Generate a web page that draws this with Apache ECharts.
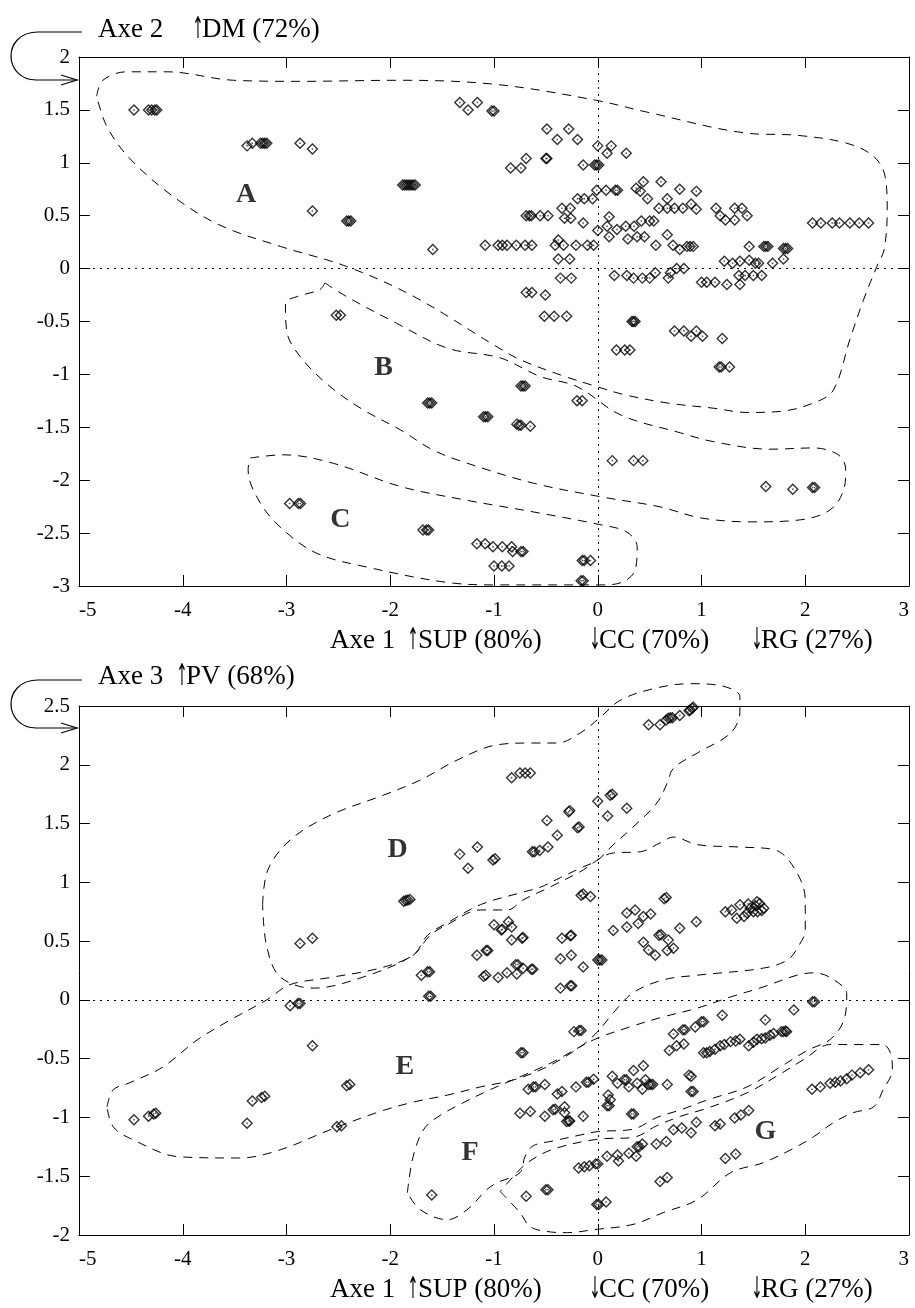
<!DOCTYPE html>
<html>
<head>
<meta charset="utf-8">
<script src="https://cdn.jsdelivr.net/npm/echarts@6/dist/echarts.min.js"></script>
<style>
html, body { margin: 0; padding: 0; background: #fff; }
#chart { width: 915px; height: 1308px; }
</style>
</head>
<body>
<div id="chart"></div>
<script>
// axes : plan 1-2 en haut, plan 1-3 en bas
const axe1Range = [-5, 3]
const axe2Range = [-3, 2]
const axe3Range = [-2, 2.5]

// individus, plan Axe 1 / Axe 2
const pointsPlan12 = [
  [-4.47,1.50],[-4.33,1.50],[-4.30,1.50],[-4.27,1.50],[-4.25,1.50],
  [-3.38,1.16],[-3.33,1.185],[-3.25,1.185],[-3.23,1.185],[-3.21,1.185],[-3.19,1.185],
  [-2.87,1.185],[-2.75,1.13],
  [-1.88,0.79],[-1.86,0.79],[-1.84,0.79],[-1.82,0.79],[-1.80,0.79],[-1.78,0.79],[-1.76,0.79],
  [-2.75,0.545],[-2.42,0.45],[-2.40,0.45],[-2.38,0.45],[-1.59,0.18],
  [-1.33,1.57],[-1.25,1.50],[-1.16,1.57],[-1.02,1.49],[-1.00,1.49],
  [-0.49,1.32],[-0.28,1.32],[-0.39,1.22],[-0.195,1.22],[-0.69,1.04],[-0.84,0.95],[-0.74,0.95],[-0.50,1.04],[-0.49,1.04],
  [0.0,1.16],[0.13,1.16],[0.09,1.09],[0.275,1.09],
  [-0.14,0.98],[-0.03,0.98],[-0.01,0.98],[0.01,0.98],
  [-0.01,0.74],[0.08,0.74],[0.17,0.74],[0.19,0.74],
  [-0.195,0.66],[-0.13,0.66],[-0.05,0.66],
  [0.37,0.76],[0.41,0.73],[0.44,0.82],[0.48,0.66],[0.61,0.82],[0.79,0.75],[0.95,0.73],
  [0.67,0.66],[0.59,0.57],[0.67,0.57],[0.74,0.57],[0.82,0.57],[0.90,0.61],[0.95,0.56],
  [1.14,0.57],[1.18,0.50],[1.23,0.46],[1.32,0.57],[1.39,0.57],[1.32,0.46],[1.44,0.50],
  [2.07,0.43],[2.15,0.43],[2.26,0.43],[2.33,0.43],[2.43,0.43],[2.52,0.43],[2.61,0.43],
  [-0.69,0.50],[-0.66,0.50],[-0.64,0.50],[-0.555,0.50],[-0.48,0.50],
  [-0.345,0.57],[-0.265,0.57],[-0.32,0.475],[-0.26,0.475],[-0.14,0.43],
  [0.11,0.49],[0.0,0.36],[0.09,0.40],[0.185,0.37],[0.11,0.30],
  [0.27,0.40],[0.35,0.40],[0.42,0.45],[0.50,0.45],[0.54,0.45],
  [-1.085,0.22],[-0.96,0.22],[-0.92,0.22],[-0.875,0.22],[-0.785,0.22],[-0.70,0.22],[-0.635,0.22],
  [-0.38,0.27],[-0.33,0.22],[-0.41,0.22],[-0.21,0.22],[-0.10,0.22],[-0.04,0.22],
  [0.29,0.28],[0.38,0.30],[0.45,0.30],
  [0.56,0.22],[0.67,0.32],[0.725,0.22],[0.79,0.18],[0.86,0.21],[0.89,0.21],[0.92,0.21],
  [-0.38,0.09],[-0.27,0.09],
  [1.46,0.21],[1.60,0.21],[1.62,0.21],[1.64,0.21],[1.79,0.19],[1.81,0.19],[1.83,0.19],
  [1.22,0.07],[1.30,0.05],[1.37,0.07],[1.46,0.08],[1.52,0.05],[1.55,0.05],[1.685,0.05],[1.79,0.09],
  [1.36,-0.065],[1.42,-0.065],[1.50,-0.065],[1.58,-0.065],
  [1.00,-0.13],[1.05,-0.13],[1.13,-0.13],[1.245,-0.15],[1.37,-0.15],
  [0.16,-0.065],[0.28,-0.065],[0.345,-0.09],[0.43,-0.09],[0.50,-0.09],[0.555,-0.04],[0.68,-0.09],[0.76,0.0],[0.83,0.0],[0.70,-0.04],
  [-0.36,-0.09],[-0.255,-0.09],
  [-0.69,-0.225],[-0.635,-0.225],[-0.505,-0.25],
  [-0.515,-0.45],[-0.42,-0.45],[-0.30,-0.45],
  [0.33,-0.50],[0.345,-0.50],[0.36,-0.50],
  [0.74,-0.59],[0.83,-0.59],[0.90,-0.64],[0.95,-0.59],[1.01,-0.64],[1.20,-0.66],
  [0.18,-0.77],[0.26,-0.77],[0.31,-0.77],
  [1.17,-0.93],[1.19,-0.93],[1.27,-0.93],
  [-2.52,-0.44],[-2.48,-0.44],
  [-1.64,-1.27],[-1.62,-1.27],[-1.60,-1.27],
  [-0.74,-1.11],[-0.72,-1.11],[-0.70,-1.11],
  [-1.10,-1.40],[-1.08,-1.40],[-1.06,-1.40],
  [-0.20,-1.25],[-0.15,-1.25],
  [-0.78,-1.47],[-0.76,-1.48],[-0.74,-1.48],[-0.65,-1.49],
  [0.14,-1.815],[0.345,-1.815],[0.435,-1.815],
  [1.62,-2.06],[1.88,-2.085],[2.07,-2.07],[2.09,-2.07],
  [-2.97,-2.22],[-2.885,-2.22],[-2.865,-2.22],
  [-1.685,-2.47],[-1.65,-2.47],[-1.63,-2.47],
  [-1.165,-2.60],[-1.085,-2.60],[-1.01,-2.63],[-0.92,-2.63],[-0.83,-2.63],[-0.82,-2.675],[-0.74,-2.675],[-0.72,-2.675],
  [-1.00,-2.81],[-0.925,-2.81],[-0.855,-2.81],
  [-0.15,-2.76],[-0.13,-2.76],[-0.07,-2.76],
  [-0.16,-2.95],[-0.14,-2.95]
]

// individus, plan Axe 1 / Axe 3
const pointsPlan13 = [
  [0.49,2.34],[0.60,2.34],[0.66,2.38],[0.68,2.395],[0.70,2.40],[0.72,2.40],[0.79,2.42],[0.88,2.46],[0.89,2.465],[0.91,2.48],[0.92,2.49],
  [-0.83,1.89],[-0.75,1.93],[-0.70,1.93],[-0.65,1.93],
  [0.0,1.69],[0.12,1.74],[0.14,1.75],[0.095,1.565],[0.28,1.63],
  [-0.28,1.60],[-0.27,1.61],[-0.195,1.465],[-0.18,1.47],[-0.49,1.525],[-0.39,1.40],
  [-0.63,1.26],[-0.61,1.26],[-0.56,1.27],[-0.48,1.30],
  [-1.33,1.24],[-1.16,1.30],[-1.25,1.12],[-1.01,1.19],[-0.99,1.20],
  [-1.87,0.84],[-1.85,0.845],[-1.83,0.85],[-1.81,0.855],
  [-0.16,0.89],[-0.14,0.90],[-0.07,0.88],
  [0.28,0.74],[0.36,0.765],[0.44,0.71],[0.51,0.73],[0.28,0.62],[0.39,0.65],[0.15,0.59],
  [0.64,0.86],[0.66,0.87],
  [1.23,0.75],[1.29,0.765],[1.37,0.81],[1.45,0.815],[1.535,0.835],[1.60,0.78],[1.50,0.75],[1.41,0.71],[1.34,0.695],
  [1.54,0.75],[1.47,0.78],[1.52,0.80],[1.56,0.82],[1.58,0.76],[1.44,0.74],
  [0.95,0.665],[0.79,0.61],
  [0.59,0.55],[0.61,0.555],[0.68,0.51],[0.73,0.44],[0.67,0.42],[0.44,0.49],[0.49,0.425],[0.555,0.38],
  [-1.00,0.64],[-0.93,0.595],[-0.92,0.60],[-0.86,0.665],[-0.83,0.62],[-0.73,0.525],[-0.72,0.53],[-0.83,0.51],
  [-1.165,0.38],[-1.075,0.42],[-1.06,0.42],
  [-1.10,0.20],[-1.08,0.21],[-0.96,0.19],[-0.875,0.23],[-0.78,0.22],[-0.79,0.30],[-0.77,0.30],[-0.72,0.27],[-0.64,0.26],[-0.625,0.26],
  [-0.345,0.525],[-0.265,0.545],[-0.255,0.55],
  [-0.36,0.35],[-0.255,0.38],
  [-0.14,0.28],[0.0,0.34],[0.02,0.34],[0.04,0.34],
  [-0.36,0.10],[-0.265,0.12],[-0.25,0.12],
  [-1.70,0.21],[-1.64,0.24],[-1.62,0.24],
  [-1.63,0.03],[-1.61,0.03],
  [-0.23,-0.27],[-0.18,-0.26],[-0.16,-0.26],
  [-0.74,-0.45],[-0.72,-0.45],
  [1.20,-0.13],[1.615,-0.17],[1.89,-0.085],[2.07,-0.015],[2.09,-0.015],
  [0.73,-0.29],[0.82,-0.255],[0.84,-0.255],[0.94,-0.23],[1.00,-0.185],[1.02,-0.185],
  [0.69,-0.43],[0.76,-0.39],[0.83,-0.375],
  [1.02,-0.45],[1.05,-0.45],[1.08,-0.44],[1.13,-0.42],[1.18,-0.39],[1.22,-0.38],[1.28,-0.355],[1.33,-0.35],[1.37,-0.335],
  [1.455,-0.39],[1.50,-0.36],[1.535,-0.335],[1.58,-0.33],[1.615,-0.325],[1.66,-0.30],[1.695,-0.285],[1.77,-0.27],[1.79,-0.27],[1.81,-0.265],[1.82,-0.27],
  [0.88,-0.64],[0.90,-0.65],
  [-2.87,0.48],[-2.75,0.525],
  [-2.965,-0.05],[-2.89,-0.03],[-2.87,-0.03],
  [-2.75,-0.39],
  [-2.42,-0.73],[-2.39,-0.72],
  [-3.33,-0.86],[-3.24,-0.83],[-3.21,-0.82],
  [-3.38,-1.05],
  [-4.47,-1.02],[-4.33,-0.99],[-4.28,-0.97],[-4.26,-0.965],
  [-2.515,-1.08],[-2.47,-1.07],
  [-0.67,-0.76],[-0.62,-0.74],[-0.60,-0.74],[-0.51,-0.72],
  [-0.39,-0.80],[-0.345,-0.78],
  [-0.21,-0.74],[-0.11,-0.70],[-0.09,-0.70],[-0.04,-0.675],
  [-0.75,-0.965],[-0.65,-0.95],
  [-0.51,-0.99],[-0.43,-0.935],[-0.41,-0.93],[-0.32,-0.91],[-0.32,-0.96],[-0.14,-0.99],[-0.30,-1.035],[-0.28,-1.03],[-0.27,-1.03],
  [0.10,-0.81],[0.12,-0.85],[0.09,-0.90],[0.11,-0.90],
  [0.14,-0.65],[0.19,-0.71],[0.255,-0.68],[0.275,-0.68],[0.30,-0.74],[0.38,-0.71],[0.43,-0.76],[0.44,-0.56],[0.345,-0.60],
  [0.49,-0.72],[0.51,-0.72],[0.53,-0.72],[0.67,-0.72],[0.46,-0.68],
  [0.90,-0.78],[0.92,-0.78],
  [0.325,-0.97],[0.345,-0.97],
  [2.065,-0.76],[2.145,-0.74],[2.24,-0.71],[2.29,-0.70],[2.34,-0.69],[2.40,-0.67],[2.45,-0.64],[2.53,-0.62],[2.61,-0.595],
  [1.13,-1.07],[1.18,-1.055],[1.32,-1.005],[1.38,-0.98],[1.455,-0.94],
  [0.95,-1.04],[0.90,-1.13],[0.81,-1.09],[0.73,-1.105],
  [0.66,-1.205],[0.565,-1.225],[0.43,-1.225],[0.38,-1.25],[0.40,-1.25],
  [0.30,-1.305],[0.19,-1.32],[0.20,-1.37],[0.09,-1.33],[0.37,-1.33],
  [-0.185,-1.43],[-0.13,-1.42],[-0.08,-1.41],[-0.02,-1.395],[0.0,-1.395],
  [1.23,-1.35],[1.33,-1.31],
  [0.60,-1.545],[0.67,-1.51],
  [-0.50,-1.615],[-0.48,-1.615],
  [-0.69,-1.67],
  [-1.60,-1.66],
  [-0.01,-1.74],[0.01,-1.74],[0.08,-1.72]
]

// contours des groupes (tracés à la main sur l'original)
const contourA = [[-4.83,1.63],[-4.77,1.78],[-4.54,1.86],[-4.15,1.86],[-3.51,1.78],[-2.87,1.77],[-1.90,1.78],[-0.97,1.74],[-0.01,1.59],[0.47,1.48],[1.44,1.28],[1.92,1.26],[2.40,1.185],[2.66,1.06],[2.77,0.87],[2.79,0.555],[2.76,0.18],[2.69,0.02],[2.56,-0.30],[2.43,-0.67],[2.27,-1.15],[2.08,-1.27],[1.76,-1.35],[1.44,-1.36],[1.12,-1.32],[0.67,-1.27],[0.25,-1.19],[-0.01,-1.115],[-0.36,-1.005],[-0.75,-0.86],[-0.97,-0.74],[-1.78,-0.26],[-2.42,0.02],[-3.06,0.21],[-3.64,0.41],[-4.09,0.68],[-4.51,1.04],[-4.73,1.34],[-4.83,1.63]]
const contourB = [[-2.63,-0.135],[-2.42,-0.265],[-1.94,-0.516],[-1.45,-0.752],[-0.94,-0.844],[-0.555,-1.02],[-0.20,-1.115],[0.22,-1.383],[0.80,-1.553],[1.11,-1.635],[1.66,-1.707],[2.08,-1.695],[2.32,-1.761],[2.39,-1.903],[2.37,-2.092],[2.24,-2.28],[1.95,-2.375],[1.47,-2.394],[0.99,-2.356],[0.60,-2.252],[0.02,-2.155],[-0.62,-2.028],[-1.26,-1.839],[-1.59,-1.714],[-1.90,-1.525],[-2.26,-1.335],[-2.58,-1.115],[-2.87,-0.83],[-3.00,-0.58],[-3.01,-0.327],[-2.90,-0.265],[-2.68,-0.20],[-2.63,-0.135]]
const contourC = [[-3.35,-1.79],[-3.03,-1.76],[-2.55,-1.84],[-1.90,-2.06],[-1.26,-2.19],[-0.62,-2.30],[0.02,-2.42],[0.28,-2.49],[0.38,-2.63],[0.36,-2.85],[0.22,-2.97],[0.02,-2.99],[-0.94,-2.99],[-1.42,-2.97],[-2.23,-2.82],[-2.71,-2.69],[-3.03,-2.47],[-3.25,-2.22],[-3.37,-1.90],[-3.35,-1.79]]
const contourD = [[-3.23,0.81],[-3.18,1.105],[-2.965,1.36],[-2.58,1.57],[-2.07,1.74],[-1.71,1.87],[-1.355,2.04],[-0.97,2.17],[-0.65,2.185],[-0.39,2.185],[-0.17,2.27],[0.02,2.40],[0.22,2.55],[0.55,2.65],[0.89,2.69],[1.20,2.67],[1.37,2.58],[1.37,2.45],[1.28,2.27],[0.96,2.10],[0.73,1.97],[0.67,1.845],[0.57,1.675],[0.34,1.47],[0.15,1.32],[0.0,1.19],[-0.17,1.12],[-0.36,1.04],[-0.55,0.96],[-0.75,0.91],[-1.13,0.81],[-1.45,0.655],[-1.64,0.55],[-1.78,0.38],[-2.26,0.195],[-2.74,0.10],[-3.06,0.195],[-3.19,0.45],[-3.23,0.81]]
const contourE = [[-4.73,-0.91],[-4.67,-0.765],[-4.51,-0.705],[-4.19,-0.57],[-3.86,-0.34],[-3.54,-0.17],[-3.19,0.0],[-2.965,0.13],[-2.58,0.19],[-2.10,0.27],[-1.78,0.38],[-1.615,0.55],[-1.45,0.64],[-1.13,0.765],[-0.87,0.765],[-0.72,0.85],[-0.46,0.96],[-0.17,1.09],[0.15,1.25],[0.41,1.26],[0.60,1.335],[0.73,1.385],[0.96,1.32],[1.37,1.30],[1.71,1.275],[1.905,1.105],[2.00,0.85],[2.00,0.595],[1.93,0.45],[1.83,0.34],[1.595,0.27],[0.96,0.21],[0.63,0.17],[0.34,0.06],[0.15,-0.11],[0.0,-0.27],[-0.17,-0.40],[-0.49,-0.57],[-0.81,-0.68],[-1.13,-0.74],[-1.45,-0.81],[-1.78,-0.87],[-2.10,-0.95],[-2.58,-1.105],[-3.06,-1.275],[-3.45,-1.345],[-4.03,-1.335],[-4.48,-1.19],[-4.67,-1.08],[-4.73,-0.91]]
const contourF = [[-1.835,-1.64],[-1.78,-1.335],[-1.68,-1.105],[-1.55,-1.00],[-1.33,-0.89],[-1.04,-0.765],[-0.75,-0.655],[-0.43,-0.527],[-0.04,-0.34],[0.31,-0.23],[0.63,-0.145],[0.96,-0.07],[1.28,0.025],[1.595,0.11],[1.92,0.21],[2.08,0.23],[2.24,0.19],[2.40,0.05],[2.38,-0.15],[2.25,-0.33],[2.02,-0.43],[1.76,-0.57],[1.44,-0.74],[1.06,-0.85],[0.80,-0.935],[0.57,-1.00],[0.34,-1.10],[0.0,-1.12],[-0.17,-1.15],[-0.43,-1.20],[-0.62,-1.24],[-0.70,-1.33],[-0.75,-1.47],[-0.97,-1.555],[-1.07,-1.615],[-1.26,-1.785],[-1.45,-1.87],[-1.71,-1.785],[-1.835,-1.64]]
const contourG = [[-0.94,-1.63],[-0.75,-1.81],[-0.65,-1.93],[-0.49,-1.97],[-0.29,-1.98],[-0.04,-1.955],[0.34,-1.91],[0.63,-1.81],[0.96,-1.70],[1.28,-1.47],[1.595,-1.385],[1.86,-1.275],[2.08,-1.165],[2.27,-1.045],[2.46,-0.96],[2.66,-0.91],[2.75,-0.765],[2.84,-0.595],[2.82,-0.45],[2.75,-0.38],[2.56,-0.38],[2.24,-0.38],[1.98,-0.51],[1.76,-0.63],[1.44,-0.79],[1.06,-0.92],[0.80,-0.99],[0.57,-1.07],[0.34,-1.17],[0.0,-1.185],[-0.43,-1.27],[-0.67,-1.38],[-0.80,-1.49],[-0.94,-1.63]]

const lettresPlan12 = ['A', 'B', 'C']
const posLettresPlan12 = [[-3.39,0.70],[-2.065,-0.94],[-2.48,-2.375]]
const lettresPlan13 = ['D', 'E', 'F', 'G']
const posLettresPlan13 = [[-1.93,1.275],[-1.86,-0.565],[-1.23,-1.30],[1.615,-1.12]]

const serif = '"Liberation Serif", "Times New Roman", serif'
const chart = echarts.init(document.getElementById('chart'), null, { renderer: 'canvas' })

const grids = [
  { left: 79, top: 57, width: 830, height: 529 },
  { left: 79, top: 706, width: 830, height: 529 }
]

const tick = { show: true, inside: true, length: 11, lineStyle: { color: '#000', width: 1 } }
const ligne = { show: true, onZero: false, lineStyle: { color: '#000', width: 1 } }

const xAxes = []
const yAxes = []
;[axe2Range, axe3Range].forEach((yr, g) => {
  xAxes.push({
    type: 'value', gridIndex: g, position: 'bottom', min: axe1Range[0], max: axe1Range[1], interval: 1,
    axisLine: ligne, axisTick: tick, splitLine: { show: false },
    axisLabel: {
      color: '#000', fontFamily: serif, fontSize: 21, margin: 14,
      showMinLabel: true, showMaxLabel: true, alignMinLabel: 'left', alignMaxLabel: 'right'
    }
  })
  xAxes.push({
    type: 'value', gridIndex: g, position: 'top', min: axe1Range[0], max: axe1Range[1], interval: 1,
    axisLine: ligne, axisTick: tick, splitLine: { show: false }, axisLabel: { show: false }
  })
  yAxes.push({
    type: 'value', gridIndex: g, position: 'left', min: yr[0], max: yr[1], interval: 0.5,
    axisLine: ligne, axisTick: tick, splitLine: { show: false },
    axisLabel: { color: '#000', fontFamily: serif, fontSize: 21, margin: 9, padding: [9, 0, 0, 0] }
  })
  yAxes.push({
    type: 'value', gridIndex: g, position: 'right', min: yr[0], max: yr[1], interval: 0.5,
    axisLine: ligne, axisTick: tick, splitLine: { show: false }, axisLabel: { show: false }
  })
})

const pointilles = { color: '#000', width: 1, type: [2, 5] }
const tirets = { color: '#000', width: 1, type: [9, 7] }

function seriesPlan(g, points, contours, lettres, posLettres) {
  const ax = { xAxisIndex: g * 2, yAxisIndex: g * 2 }
  const out = []
  out.push({
    ...ax, type: 'scatter', data: points, symbol: 'diamond', symbolSize: 10,
    itemStyle: { color: 'rgba(255,255,255,0)', borderColor: '#000', borderWidth: 1.4 },
    markLine: {
      silent: true, symbol: 'none', label: { show: false },
      lineStyle: pointilles,
      data: [{ xAxis: 0 }, { yAxis: 0 }]
    },
    z: 3
  })
  out.push({
    ...ax, type: 'scatter', data: points, symbol: 'rect', symbolSize: 1.5,
    itemStyle: { color: '#222' }, z: 4
  })
  contours.forEach(c => {
    out.push({
      ...ax, type: 'line', data: c, smooth: 0.35, showSymbol: false, clip: false,
      lineStyle: tirets, z: 2
    })
  })
  out.push({
    ...ax, type: 'scatter', symbolSize: 0, z: 5,
    data: lettres.map((l, i) => ({ name: l, value: posLettres[i] })),
    label: {
      show: true, position: 'inside', formatter: p => p.name,
      fontFamily: serif, fontSize: 28, fontWeight: 'bold', color: '#000'
    }
  })
  return out
}

function texte(x, y, t, align) {
  return {
    type: 'text', x, y, silent: true,
    style: { text: t, font: '27px ' + serif, fill: '#000', textAlign: align || 'left', textVerticalAlign: 'middle' }
  }
}

// flèche fine, haute (plus fine que le glyphe de la police)
function fleche(x, y, haut) {
  return {
    type: 'text', x, y, silent: true, scaleX: 0.45,
    style: { text: haut ? '↑' : '↓', font: '30px "DejaVu Sans"', fill: '#000', textAlign: 'center', textVerticalAlign: 'middle' }
  }
}

function titresAxe1(y) {
  return [
    texte(330, y, 'Axe 1'),
    fleche(413, y, true),
    texte(418, y, 'SUP (80%)'),
    fleche(595, y, false),
    texte(599, y, 'CC (70%)'),
    fleche(757, y, false),
    texte(761, y, 'RG (27%)')
  ]
}

const trait = { stroke: '#000', fill: null, lineWidth: 1.2 }
function flecheCourbe(dy) {
  return [
    { type: 'line', silent: true, shape: { x1: 82, y1: 32 + dy, x2: 38, y2: 32 + dy }, style: trait },
    { type: 'bezierCurve', silent: true, shape: { x1: 38, y1: 32 + dy, cpx1: 20, cpy1: 32 + dy, cpx2: 11, cpy2: 44 + dy, x2: 11, y2: 56 + dy }, style: trait },
    { type: 'bezierCurve', silent: true, shape: { x1: 11, y1: 56 + dy, cpx1: 11, cpy1: 69 + dy, cpx2: 21, cpy2: 80 + dy, x2: 36, y2: 80 + dy }, style: trait },
    { type: 'line', silent: true, shape: { x1: 36, y1: 80 + dy, x2: 77, y2: 80 + dy }, style: trait },
    { type: 'polyline', silent: true, shape: { points: [[61, 75 + dy], [77, 80 + dy], [61, 85 + dy]] }, style: trait }
  ]
}

const option = {
  animation: false,
  backgroundColor: '#fff',
  grid: grids,
  xAxis: xAxes,
  yAxis: yAxes,
  series: [
    ...seriesPlan(0, pointsPlan12, [contourA, contourB, contourC], lettresPlan12, posLettresPlan12),
    ...seriesPlan(1, pointsPlan13, [contourD, contourE, contourF, contourG], lettresPlan13, posLettresPlan13)
  ],
  graphic: [
    texte(98, 30, 'Axe 2'),
    fleche(198, 30, true),
    texte(202, 30, 'DM (72%)'),
    texte(98, 677, 'Axe 3'),
    fleche(182, 677, true),
    texte(186, 677, 'PV (68%)'),
    ...titresAxe1(641),
    ...titresAxe1(1290),
    ...flecheCourbe(0),
    ...flecheCourbe(648)
  ]
}

chart.setOption(option)
</script>
</body>
</html>
